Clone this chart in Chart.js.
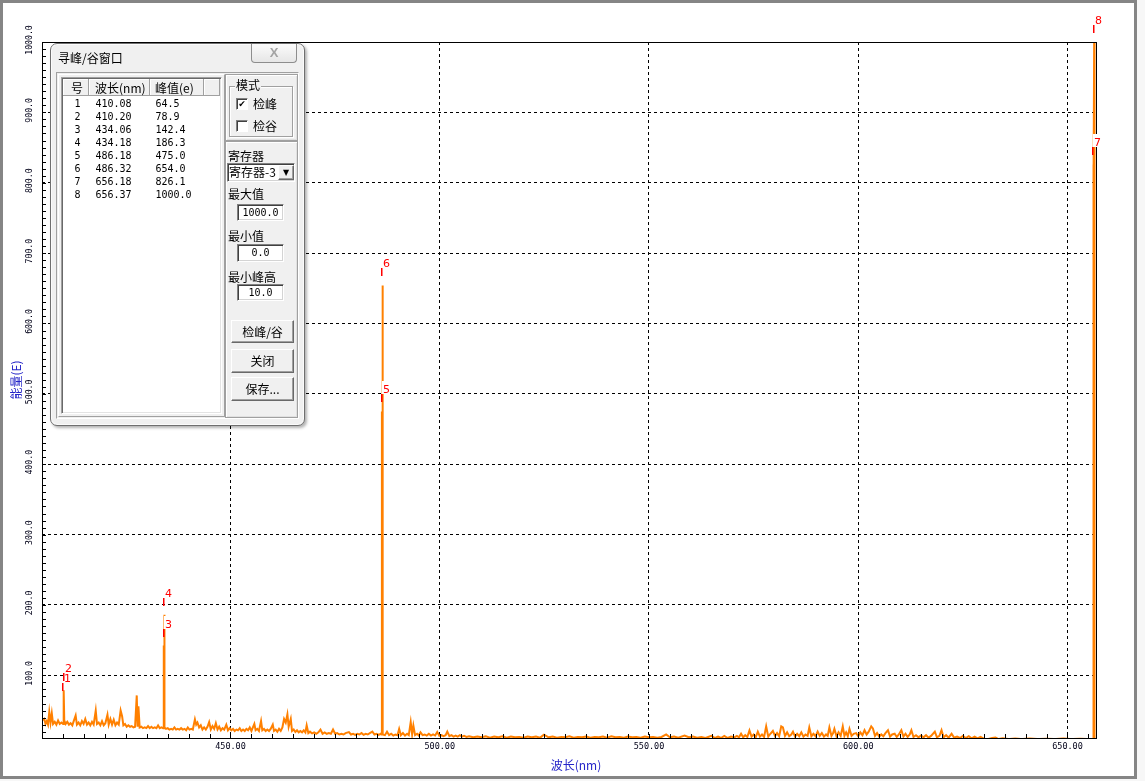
<!DOCTYPE html>
<html><head><meta charset="utf-8">
<script src="https://cdn.jsdelivr.net/npm/chart.js@4.4.1/dist/chart.umd.min.js"></script>
<style>
html,body{margin:0;padding:0;background:#f7f7f7;width:1145px;height:781px;overflow:hidden;}
#frame{position:absolute;left:0;top:0;width:1137px;height:779px;box-sizing:border-box;border:3px solid #858585;background:#fff;}
#c{position:absolute;left:0;top:0;}
#layer{position:absolute;left:0;top:0;width:1145px;height:781px;}
.a{position:absolute;box-sizing:border-box;}
.t{position:absolute;font:12px/14px "Noto Sans CJK SC",sans-serif;color:#000;white-space:nowrap;}
.m{font-family:"DejaVu Sans Mono",monospace;font-size:10px;line-height:13px;}
.dlg{border:1px solid #6f6f6f;border-radius:7px;background:#f0f0f0;box-shadow:2px 2px 3px rgba(0,0,0,.3), inset 0 0 0 1px #fbfbfb;}
.close{border:1px solid #8d8d8d;border-top:none;border-radius:0 0 4px 4px;background:linear-gradient(#fbfbfb,#e6e6e6);text-align:center;font:bold 13px/18px "Liberation Sans",sans-serif;color:#a3a3a3;}
.sunken{border:1px solid;border-color:#a0a0a0 #fff #fff #a0a0a0;}
.raised{border:1px solid;border-color:#fff #a0a0a0 #a0a0a0 #fff;}
.panel{border:1px solid #a0a0a0;box-shadow:inset 1px 1px 0 #fff, inset -1px -1px 0 #e0e0e0;}
.lb{background:#fff;border:1px solid;border-color:#a0a0a0 #fff #fff #a0a0a0;box-shadow:inset 1px 1px 0 #696969, inset -1px -1px 0 #e3e3e3;}
.hc{position:absolute;box-sizing:border-box;top:79px;height:17px;background:#f0f0f0;border-right:1px solid #a0a0a0;border-bottom:1px solid #a0a0a0;box-shadow:inset 1px 1px 0 #fff;}
.grp{border:1px solid #a0a0a0;box-shadow:1px 1px 0 #fff, inset 1px 1px 0 #fff;}
.cb{background:#fff;border:1px solid;border-color:#808080 #fff #fff #808080;box-shadow:inset 1px 1px 0 #404040;font:bold 9px/11px "DejaVu Sans",sans-serif;text-align:center;color:#000;}
.inp{background:#fff;border:1px solid;border-color:#808080 #fff #fff #808080;box-shadow:inset 1px 1px 0 #404040, inset -1px -1px 0 #d4d4d4;text-align:center;font:10px "DejaVu Sans Mono",monospace;color:#000;}
.btn{background:#f0f0f0;border:1px solid;border-color:#fff #696969 #696969 #fff;box-shadow:inset -1px -1px 0 #a0a0a0;text-align:center;font:12px "Noto Sans CJK SC",sans-serif;color:#000;}
</style></head>
<body>
<div id="frame"></div>
<canvas id="c" width="1145" height="781" style="width:1145px;height:781px"></canvas>
<div id="layer">
  <div class="a dlg" style="left:50px;top:43px;width:255px;height:383px;"></div>
  <div class="t" style="left:58px;top:51px;">寻峰/谷窗口</div>
  <div class="a close" style="left:251px;top:44px;width:46px;height:19px;">X</div>
  <div class="a sunken" style="left:56px;top:72px;width:243px;height:347px;"></div>
  <div class="a raised" style="left:58px;top:74px;width:167px;height:343px;"></div>
  <div class="a lb" style="left:61px;top:77px;width:161px;height:337px;"></div>
  <div class="hc" style="left:63px;width:26px;"></div>
  <div class="hc" style="left:89px;width:61px;"></div>
  <div class="hc" style="left:150px;width:54px;"></div>
  <div class="hc" style="left:204px;width:16px;"></div>
  <div class="t" style="left:71px;top:81px;">号</div>
  <div class="t" style="left:95px;top:81px;">波长(nm)</div>
  <div class="t" style="left:155px;top:81px;">峰值(e)</div>
  <div id="rows"></div>

  <div class="a panel" style="left:225px;top:74px;width:73px;height:67px;"></div>
  <div class="a grp" style="left:229px;top:86px;width:64px;height:51px;"></div>
  <div class="t" style="left:235px;top:78px;background:#f0f0f0;padding:0 1px;">模式</div>
  <div class="a cb" style="left:236px;top:98px;width:12px;height:12px;">✔</div>
  <div class="t" style="left:253px;top:97px;">检峰</div>
  <div class="a cb" style="left:236px;top:120px;width:12px;height:12px;"></div>
  <div class="t" style="left:253px;top:119px;">检谷</div>

  <div class="a panel" style="left:225px;top:141px;width:73px;height:277px;"></div>
  <div class="t" style="left:228px;top:149px;">寄存器</div>
  <div class="a inp" style="left:227px;top:163px;width:68px;height:19px;"></div>
  <div class="t" style="left:229px;top:165px;">寄存器-3</div>
  <div class="a btn" style="left:278px;top:165px;width:16px;height:15px;font:8px/13px 'DejaVu Sans',sans-serif;">▼</div>
  <div class="t" style="left:228px;top:187px;">最大值</div>
  <div class="a inp" style="left:237px;top:204px;width:47px;height:17px;line-height:15px;">1000.0</div>
  <div class="t" style="left:228px;top:229px;">最小值</div>
  <div class="a inp" style="left:237px;top:244px;width:47px;height:18px;line-height:16px;">0.0</div>
  <div class="t" style="left:228px;top:270px;">最小峰高</div>
  <div class="a inp" style="left:237px;top:284px;width:47px;height:17px;line-height:15px;">10.0</div>
  <div class="a btn" style="left:231px;top:320px;width:63px;height:23px;line-height:21px;">检峰/谷</div>
  <div class="a btn" style="left:231px;top:349px;width:63px;height:24px;line-height:22px;">关闭</div>
  <div class="a btn" style="left:231px;top:377px;width:63px;height:24px;line-height:22px;">保存...</div>
</div>
<script>
// ---- spectrum data (wavelength nm, energy) ----
const wavelength = [
405.2,405.5,405.8,406.1,406.4,406.7,407.0,407.3,407.6,408.0,408.4,408.8,409.2,409.6,410.0,410.08,410.14,410.20,410.28,
410.6,411.0,411.4,411.8,412.2,412.6,413.0,413.3,413.7,414.1,
414.5,414.9,415.3,415.7,416.1,416.5,416.9,417.3,417.8,418.1,
418.5,418.9,419.3,419.7,420.1,420.6,420.9,421.3,421.7,422.1,
422.5,422.9,423.3,423.75,424.1,424.4,424.8,425.2,425.6,426.0,
426.4,426.8,427.2,427.6,427.8,428.0,428.3,428.7,429.1,429.5,
429.9,430.3,430.7,431.1,431.5,431.9,432.3,432.7,433.1,433.5,
433.9,434.06,434.12,434.18,434.26,434.6,435.0,435.4,435.8,436.2,
436.6,437.0,437.4,437.8,438.2,438.6,439.0,439.4,439.8,440.2,
440.6,441.0,441.5,441.8,442.1,442.5,442.9,443.3,443.7,444.1,
444.5,444.9,445.3,445.7,446.1,446.5,446.9,447.3,447.7,448.1,
448.5,449.0,449.4,449.8,450.2,450.6,451.0,451.4,451.8,452.2,
452.6,453.0,453.4,453.8,454.2,454.6,455.0,455.7,456.0,456.4,
456.8,457.3,457.6,458.0,458.4,458.8,459.2,459.6,460.1,460.4,
460.8,461.2,461.6,462.0,462.4,462.8,463.2,463.6,463.9,464.4,
464.7,465.1,465.5,465.9,466.3,466.7,467.1,467.5,467.9,468.2,
468.6,469.0,469.5,470.0,470.5,471.0,471.5,472.0,472.5,473.0,
473.5,474.0,474.5,475.0,475.5,476.0,476.5,477.0,477.5,478.3,
478.8,479.3,479.8,480.3,480.8,481.3,481.8,482.3,482.8,483.3,
483.9,484.4,484.9,485.4,485.9,486.1,486.18,486.25,486.32,486.4,
486.9,487.4,487.9,488.4,488.9,489.4,489.9,490.3,490.7,491.2,
491.7,492.2,492.6,493.06,493.4,493.7,494.1,494.6,495.0,495.4,
495.9,496.4,496.9,497.4,497.9,498.4,498.9,499.4,499.9,500.4,
500.9,501.4,501.8,502.3,502.8,503.3,503.8,504.3,504.8,505.3,
505.8,506.4,507,508,509,510,511,512,513,514,
515,516,517,518,519,520,521,522,523,524,
524.9,526,527,528,529,530,531,532,533,534,
535,536,537,538,539,540,541,542,543,544,
545,546,547,548,549,550,551,552,553,554.1,
555,556,557,558.5,559.5,560.5,561.5,562.5,563.5,564.9,
565.8,566.5,567.2,568,568.8,569.6,570.4,571.0,571.5,572.0,
572.5,573.0,573.5,574.0,574.5,575.0,575.5,576.0,576.5,577.0,
577.5,578.0,578.5,579.0,579.6,580.1,580.6,581.1,581.6,582.0,
582.5,583.0,583.5,584.0,584.4,584.9,585.4,585.9,586.4,586.9,
587.4,587.9,588.3,588.8,589.3,589.8,590.3,590.8,591.3,591.8,
592.3,592.7,593.1,593.6,594.0,594.3,594.8,595.3,595.8,596.3,
596.7,597.1,597.5,597.9,598.4,598.9,599.5,600.0,600.5,601.0,
601.5,602.0,602.5,603.1,603.5,604.0,604.5,605.0,605.5,606.0,
606.5,607.1,607.6,608.1,608.7,609.2,609.7,610.3,610.8,611.3,
611.8,612.3,612.7,613.2,613.8,614.4,615.0,615.6,616.2,616.8,
617.4,618.3,618.8,619.4,619.9,620.4,621.0,621.6,622.3,622.9,
623.6,624.3,625.0,625.7,626.4,627.1,627.8,628.5,629.2,630,
631,632,632.8,633.5,634.5,636,637.5,639,641,643,
645,647,649,651,653,655,656.1,656.18,656.26,656.37,
656.45,656.81
];
const energy = [
36,38,31,35,30,48,33,46,31,34,30,36,31,33,31,64.5,58,78.9,36,
31,34,30,32,29,36,43,30,33,29,
35,31,38,30,33,29,34,30,50,31,
33,29,35,29,32,44,30,38,30,37,
29,33,30,50,42,29,31,27,29,27,
28,26,27,71.5,27,56,26,27,25,26,
25,28,25,27,25,26,25,29,25,26,
25,142.4,138,186.3,26,24,25,23,24,23,
26,23,24,23,25,23,24,22,26,23,
24,23,37.5,30,33,26,29,23,26,23,
27,33.6,23,28,24,32,23,27,22,25,
23,30,22,25,22,24,21,23,22,25,
21,23,21,24,22,26,21,31,22,24,
21,35,22,24,21,23,21,24,30,21,
23,20,24,21,26,38,33,44.5,27,38,
21,23,19.5,22,19,21,19,22,19,29,
18,20,17.5,19,17,19,23,17,19,17,
18,17,23,17,18,16,17,16,18,19.4,
16,17,15.5,17,16,18,15.5,17,16,18,
20,16,17,15.5,17,16,475,460,654,16,
15,20,15,17,14.5,16,15,24,15,18,
14.5,17,15,33.6,16,28.5,15,17,14.5,19,
15,16,14.5,17,14.5,16,14.5,19.4,14,15,
13.5,15,20,13.5,15,13,14.5,13,15,13,
14,12.5,13.5,12,13,12,13.5,11.5,13,12,
13.5,11.5,13,12,12.5,11.5,13,12,13,11.5,
15.7,12,13,11.5,12.5,12,13.5,11.5,12.5,12,
13,11.5,12.5,12,13,11.5,13.5,12,12.5,11.5,
13,12,12.5,11.5,13,12,12.5,11.5,12.5,16,
12,13,11.5,14.5,12,13,11.5,12.5,11,14,
11,13,11,14,11,13,12,14,12,17,
12,15,12.5,21.8,13,16,12,20,13,16,
12.5,27.5,13,17,21,14,18,13.5,27.5,26,
14,19,13.5,16,20,13,17,13.5,19,13,
16,14,26,13.5,17,13.5,20,14,18,13,
16,14,26,14,18,24,13.5,19,14,27.5,
14,19,13.5,24,14,17,18,13.5,19,15,
22,16,20,27.5,24.5,14,18,13,16,13.5,
18,22,13,16,17,12.5,16,22,13,17,
12.5,16,22,12.5,15,12,14.5,12,15,11.5,
14,20,12,14,22,12,15,11.5,17,11.5,
13,11,14,11,13.5,10.5,13,10.5,12.5,10,
9.5,11,11.5,9.5,10.5,9.5,10.3,9.5,10.2,9.5,
10,9.5,10.2,9.5,10,9.5,9.8,826.1,790,1000,
9.5,9.5
];
// ---- peak table ----
const peakNo  = [1, 2, 3, 4, 5, 6, 7, 8];
const peakWl  = [410.08, 410.20, 434.06, 434.18, 486.18, 486.32, 656.18, 656.37];
const peakVal = [64.5, 78.9, 142.4, 186.3, 475.0, 654.0, 826.1, 1000.0];
// ---- axes ----
const xTicks = [450, 500, 550, 600, 650];
const xTickLabels = ['450.00', '500.00', '550.00', '600.00', '650.00'];
const yTicks = [100, 200, 300, 400, 500, 600, 700, 800, 900, 1000];
const yTickLabels = ['100.0', '200.0', '300.0', '400.0', '500.0', '600.0', '700.0', '800.0', '900.0', '1000.0'];
const xMinorStep = 5;
const yMinorStep = 10;
const xTitle = '波长(nm)';
const yTitle = '能量(E)';

// dialog rows from peak table
const rowsEl = document.getElementById('rows');
peakNo.forEach((n, i) => {
  const top = 97 + 13 * i;
  rowsEl.insertAdjacentHTML('beforeend',
    `<div class="t m" style="left:74.5px;top:${top}px">${n}</div>` +
    `<div class="t m" style="left:95.5px;top:${top}px">${peakWl[i].toFixed(2)}</div>` +
    `<div class="t m" style="left:155.5px;top:${top}px">${peakVal[i].toFixed(1)}</div>`);
});

const tickColor = '#000018';
const titleColor = '#2424c8';

const overlay = {
  id: 'overlay',
  afterDatasetsDraw(chart) {
    const {ctx, chartArea: a, scales: {x, y}} = chart;
    ctx.save();
    // minor ticks
    ctx.strokeStyle = '#000'; ctx.lineWidth = 1; ctx.setLineDash([]);
    ctx.beginPath();
    for (let v = Math.ceil((x.min + 0.5) / xMinorStep) * xMinorStep; v < x.max - 0.5; v += xMinorStep) {
      const px = Math.round(x.getPixelForValue(v)) + 0.5;
      ctx.moveTo(px, a.bottom); ctx.lineTo(px, a.bottom - 4);
    }
    for (let v = Math.ceil((y.min + 1) / yMinorStep) * yMinorStep; v < y.max; v += yMinorStep) {
      const py = Math.round(y.getPixelForValue(v)) + 0.5;
      ctx.moveTo(a.left, py); ctx.lineTo(a.left + 4, py);
    }
    ctx.stroke();
    // frame
    ctx.strokeRect(a.left + 0.5, a.top + 0.5, a.right - a.left, a.bottom - a.top);
    // y tick labels (rotated)
    ctx.fillStyle = tickColor;
    ctx.font = '8.2px "DejaVu Sans Mono"';
    ctx.textAlign = 'center'; ctx.textBaseline = 'middle';
    yTicks.forEach((v, i) => {
      const py = y.getPixelForValue(v);
      ctx.save(); ctx.translate(30, py - 2); ctx.rotate(-Math.PI / 2);
      ctx.fillText(yTickLabels[i], 0, 0); ctx.restore();
    });
    // axis titles
    ctx.fillStyle = titleColor;
    ctx.font = '12px "Noto Sans CJK SC"';
    ctx.fillText(xTitle, (a.left + a.right) / 2 + 7, 765);
    ctx.save(); ctx.translate(16, (a.top + a.bottom) / 2 - 10); ctx.rotate(-Math.PI / 2);
    ctx.fillText(yTitle, 0, 0); ctx.restore();
    // peak markers
    ctx.font = '11px "DejaVu Sans"';
    ctx.textAlign = 'left'; ctx.textBaseline = 'alphabetic';
    peakNo.forEach((n, i) => {
      const px = Math.round(x.getPixelForValue(peakWl[i]));
      const py = Math.round(y.getPixelForValue(peakVal[i]));
      ctx.fillStyle = '#fff';
      ctx.fillRect(px, py - 30, 7, 13);
      ctx.fillStyle = '#ff0000';
      ctx.fillText(String(n), px + 1, py - 18);
      ctx.fillRect(px - 1, py - 17, 1.5, 8);
    });
    ctx.restore();
  }
};

new Chart(document.getElementById('c'), {
  type: 'line',
  data: {
    datasets: [{
      data: wavelength.map((w, i) => ({x: w, y: energy[i]})),
      borderColor: '#ff8000',
      borderWidth: 2,
      pointRadius: 0,
      tension: 0,
      fill: false,
      clip: 0
    }]
  },
  options: {
    responsive: false,
    animation: false,
    devicePixelRatio: 1,
    layout: {padding: {left: 0, top: 42, right: 49, bottom: 0}},
    plugins: {legend: {display: false}, tooltip: {enabled: false}},
    scales: {
      x: {
        type: 'linear', min: 404.96, max: 656.81,
        afterBuildTicks: s => { s.ticks = xTicks.map(v => ({value: v})); },
        afterFit: s => { s.height = 43; },
        ticks: {callback: (v, i) => xTickLabels[i], font: {family: 'DejaVu Sans Mono', size: 8.5}, color: tickColor, padding: 4, maxRotation: 0, autoSkip: false},
        grid: {color: '#000', lineWidth: 1, drawTicks: false},
        border: {display: false, dash: [3, 3]}
      },
      y: {
        type: 'linear', min: 11, max: 1000,
        afterBuildTicks: s => { s.ticks = yTicks.map(v => ({value: v})); },
        afterFit: s => { s.width = 42; },
        ticks: {display: false},
        grid: {color: '#000', lineWidth: 1, drawTicks: false},
        border: {display: false, dash: [3, 3]}
      }
    }
  },
  plugins: [overlay]
});
</script>
</body></html>
